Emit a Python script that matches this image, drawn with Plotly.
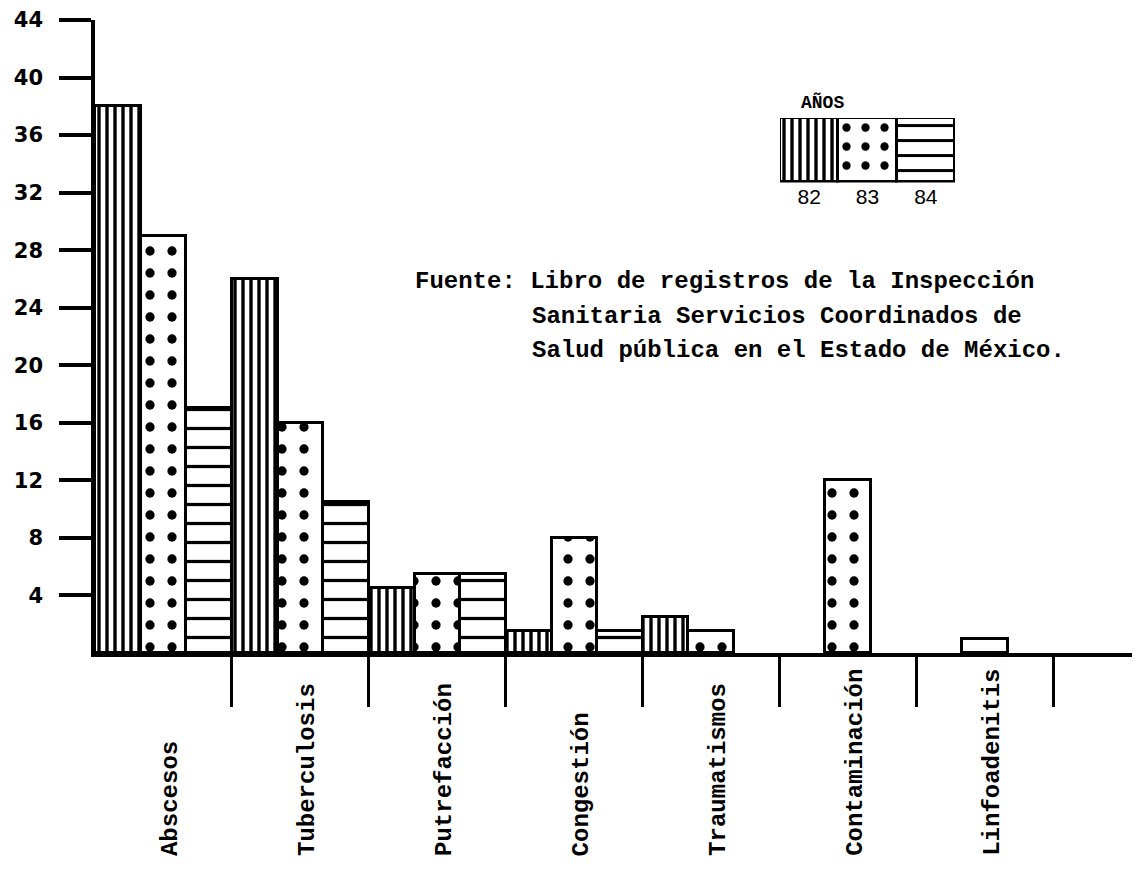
import plotly.graph_objects as go

# ---------------- data ----------------
categories = ["Abscesos", "Tuberculosis", "Putrefacción", "Congestión",
              "Traumatismos", "Contaminación", "Linfoadenitis"]
years = ["82", "83", "84"]
v82 = [38, 26, 4.5, 1.5, 2.5, None, None]
v83 = [29, 16, 5.5, 8, 1.5, 12, None]
v84 = [17, 10.5, 5.5, 1.5, None, None, 1]
y_ticks = [4, 8, 12, 16, 20, 24, 28, 32, 36, 40, 44]
legend_title = "AÑOS"
legend_cells = [1, 1, 1]
source_lines = [
    "Fuente: Libro de registros de la Inspección",
    "Sanitaria Servicios Coordinados de",
    "Salud pública en el Estado de México.",
]

# ---------------- styles ----------------
patterns = {
    "82": dict(shape="|", size=8, solidity=0.42),
    "83": dict(shape=".", size=22, solidity=0.14),
    "84": dict(shape="-", size=19, solidity=0.17),
}
TYPE = "Liberation Mono"
SLOT = 1 / 3
# slot offsets within each category group (the hand drawing puts the lone
# Linfoadenitis bar in the middle slot)
slot_offsets = {
    "82": [-0.5] * 7,
    "83": [-0.5 + SLOT] * 7,
    "84": [-0.5 + 2 * SLOT] * 6 + [-0.5 + SLOT],
}

fig = go.Figure()
for yr, vals in zip(years, [v82, v83, v84]):
    p = patterns[yr]
    fig.add_trace(go.Bar(
        x=categories, y=vals, name=yr, showlegend=False,
        offset=slot_offsets[yr], width=SLOT,
        marker=dict(color="white",
                    line=dict(color="black", width=3),
                    pattern=dict(shape=p["shape"], size=p["size"], solidity=p["solidity"],
                                 fgcolor="black", bgcolor="white", fillmode="replace")),
        hoverinfo="x+y+name",
    ))

# mini chart acting as the legend box
fig.add_trace(go.Bar(
    x=years, y=legend_cells, xaxis="x2", yaxis="y2", showlegend=False,
    marker=dict(color="white", line=dict(color="black", width=3),
                pattern=dict(shape=[patterns[y]["shape"] for y in years],
                             size=[8, 19, 15],
                             solidity=[0.42, 0.15, 0.2],
                             fgcolor="black", bgcolor="white", fillmode="replace")),
    hoverinfo="skip",
))

# page body adds an 8px margin; figure is sized so its right/bottom edge meets the window
OFF = 8
W, H = 1140 - OFF, 876 - OFF
L, R, T = 95 - OFF, 0, 14 - OFF
BASE = 653 - OFF
B = H - BASE
pw, ph = W - L - R, H - T - B


def px2paper_x(px):
    return (px - OFF - L) / pw


def px2paper_y(py):
    return (BASE - (py - OFF)) / ph


annotations = []
for cat in categories:
    annotations.append(dict(
        x=cat, xref="x", y=px2paper_y(860), yref="paper",
        text=cat, textangle=-90, showarrow=False,
        xanchor="center", yanchor="bottom", xshift=7,
        font=dict(family=TYPE, size=24, color="black", weight="bold"),
    ))

line_x = [413, 530, 530]
line_y = [278, 313, 348]
for txt, lx, ly in zip(source_lines, line_x, line_y):
    annotations.append(dict(
        x=px2paper_x(lx), xref="paper", y=px2paper_y(ly), yref="paper",
        text=txt, showarrow=False, xanchor="left", yanchor="middle",
        font=dict(family=TYPE, size=24, color="black", weight="bold"),
    ))

annotations.append(dict(
    x=px2paper_x(822), xref="paper", y=px2paper_y(97), yref="paper",
    text=legend_title, showarrow=False, xanchor="center", yanchor="middle",
    font=dict(family=TYPE, size=18, color="black", weight="bold"),
))

fig.update_layout(
    width=W, height=H,
    margin=dict(l=L, r=R, t=T, b=B, pad=0),
    paper_bgcolor="white", plot_bgcolor="white",
    barmode="group", bargap=0, bargroupgap=0,
    showlegend=False,
    xaxis=dict(
        domain=[0, 1], type="category", range=[-0.5, 7.13],
        showline=True, linewidth=3.5, linecolor="black",
        ticks="outside", tickmode="array",
        tickvals=[i + 0.5 for i in range(len(categories))],
        ticktext=["" for _ in categories],
        ticklen=50, tickwidth=3, tickcolor="black",
        showticklabels=False, showgrid=False, zeroline=False,
    ),
    yaxis=dict(
        range=[0, 44], tickmode="array", tickvals=y_ticks,
        ticktext=[str(t) for t in y_ticks],
        ticks="outside", ticklen=32, tickwidth=3.5, tickcolor="black",
        showline=True, linewidth=3.5, linecolor="black",
        showgrid=False, zeroline=False, ticklabelstandoff=12,
        ticklabeloverflow="allow",
        tickfont=dict(family="DejaVu Sans", size=21, color="black", weight="bold"),
    ),
    xaxis2=dict(
        domain=[px2paper_x(780), px2paper_x(955)], anchor="y2",
        range=[-0.5, 2.5], showline=False, ticks="",
        showgrid=False, zeroline=False,
        tickfont=dict(family="Liberation Sans", size=21, color="black"),
    ),
    yaxis2=dict(
        domain=[px2paper_y(178), px2paper_y(113)], anchor="x2",
        range=[0, 1], visible=False,
    ),
    annotations=annotations,
)

fig.write_html("out.html")
